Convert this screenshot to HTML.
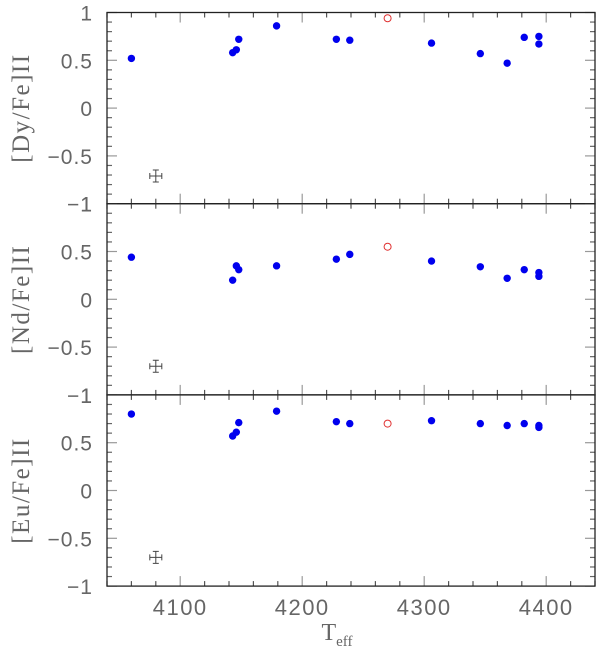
<!DOCTYPE html>
<html><head><meta charset="utf-8"><style>
html,body{margin:0;padding:0;background:#fff;}
svg{display:block;font-family:"Liberation Sans",sans-serif;}
</style></head><body>
<svg id="chart" width="600" height="650" viewBox="0 0 600 650" xmlns="http://www.w3.org/2000/svg"></svg>
<script>
const teff = [4060, 4143, 4146, 4148, 4179, 4228, 4239, 4306, 4346, 4368, 4382, 4394, 4394];
const dyVals = [0.52, 0.58, 0.61, 0.72, 0.86, 0.72, 0.71, 0.68, 0.57, 0.47, 0.74, 0.75, 0.67];
const ndVals = [0.44, 0.20, 0.35, 0.31, 0.35, 0.42, 0.47, 0.40, 0.34, 0.22, 0.31, 0.28, 0.24];
const euVals = [0.80, 0.57, 0.61, 0.71, 0.83, 0.72, 0.70, 0.73, 0.70, 0.68, 0.70, 0.68, 0.66];
const openTeff = [4270];
const dyOpen = [0.94];
const ndOpen = [0.55];
const euOpen = [0.70];
const errTeff = 4080;
const errY = [-0.71, -0.70, -0.70];
const xTicks = [4100, 4200, 4300, 4400];
const yTicks = [1, 0.5, 0, -0.5, -1];
const yTickLabels = ["1", "0.5", "0", "\u22120.5", "\u22121"];
const panelNames = ["Dy", "Nd", "Eu"];

const svg = document.getElementById('chart');
const NS = 'http://www.w3.org/2000/svg';
const X0 = 107, X1 = 595, XMIN = 4040, XMAX = 4440;
const panelTop = [12.5, 203.7, 394.9], PH = 191.2;
function xs(v){ return X0 + (v - XMIN) / (XMAX - XMIN) * (X1 - X0); }
function ys(p, v){ return panelTop[p] + (1 - v) / 2 * PH; }
function mk(tag, attrs, parent){
  const e = document.createElementNS(NS, tag);
  for (const k in attrs) e.setAttribute(k, attrs[k]);
  (parent || svg).appendChild(e);
  return e;
}
const series = [dyVals, ndVals, euVals];
const openS = [dyOpen, ndOpen, euOpen];

for (let p = 0; p < 3; p++) {
  const g = mk('g', {});
  
  
  const top = panelTop[p], bot = top + PH;
  for (let t = 4040; t <= 4440; t += 20) {
    const x = xs(t), major = (t % 100 === 0), L = major ? 10 : 5;
    const c = major ? '#999' : '#555';
    const tk = mk('line', {x1:x, x2:x, y1:bot, y2:bot - L, stroke:c, 'stroke-width':1.2}, g);
    
    
    const tk2 = mk('line', {x1:x, x2:x, y1:top, y2:top + L, stroke:c, 'stroke-width':1.2}, g);
    
    
  }
  for (let i = -10; i <= 10; i++) {
    const v = i / 10, y = ys(p, v), major = (i % 5 === 0), L = major ? 10 : 5;
    const c = major ? '#999' : '#666';
    const a = mk('line', {x1:X0, x2:X0 + L, y1:y, y2:y, stroke:c, 'stroke-width':1.2}, g);
    
    
    const b = mk('line', {x1:X1, x2:X1 - L, y1:y, y2:y, stroke:c, 'stroke-width':1.2}, g);
    
    
  }
  const fr = mk('rect', {x:X0, y:top, width:X1 - X0, height:PH, fill:'none', stroke:'#222', 'stroke-width':1.3}, g);
  
  
  for (let i = 0; i < yTicks.length; i++) {
    const tl = mk('text', {x:X0 - 14, y:ys(p, yTicks[i]) + 8, 'text-anchor':'end', 'font-size':21, 'letter-spacing':1, fill:'#666'}, g);
    tl.textContent = yTickLabels[i];
    
    
  }
  const cy = top + PH / 2;
  const yt = mk('text', {x:29, y:cy, transform:'rotate(-90 29 ' + cy + ')', 'text-anchor':'middle', 'font-size':25, 'letter-spacing':1.5, fill:'#666', 'font-family':'Liberation Serif, serif'}, g);
  yt.textContent = '[' + panelNames[p] + '/Fe]II';
  
  
  const vals = series[p];
  for (let i = 0; i < teff.length; i++) {
    const c = mk('circle', {cx:xs(teff[i]), cy:ys(p, vals[i]), r:3.7, fill:'#0000ee'}, g);
    
    
  }
  for (let i = 0; i < openTeff.length; i++) {
    const c = mk('circle', {cx:xs(openTeff[i]), cy:ys(p, openS[p][i]), r:3.5, fill:'none', stroke:'#e03030', 'stroke-width':1}, g);
    
    
  }
  const ex = xs(errTeff), ey = ys(p, errY[p]);
  const eb = mk('path', {d:'M'+(ex-6)+' '+ey+'H'+(ex+6)+'M'+ex+' '+(ey-6)+'V'+(ey+6)+'M'+(ex-6)+' '+(ey-3)+'V'+(ey+3)+'M'+(ex+6)+' '+(ey-3)+'V'+(ey+3)+'M'+(ex-3)+' '+(ey-6)+'H'+(ex+3)+'M'+(ex-3)+' '+(ey+6)+'H'+(ex+3), stroke:'#444', 'stroke-width':1, fill:'none'}, g);
  
  
}
for (let i = 0; i < xTicks.length; i++) {
  const t = mk('text', {x:xs(xTicks[i]), y:615, 'text-anchor':'middle', 'font-size':22, 'letter-spacing':1.5, fill:'#666'});
  t.textContent = xTicks[i];
  
  
}
const xt = mk('text', {x:337, y:640, 'text-anchor':'middle', 'font-size':24, fill:'#666', 'font-family':'Liberation Serif, serif'});
xt.innerHTML = 'T<tspan font-size="15" dy="6">eff</tspan>';


</script>
</body></html>
